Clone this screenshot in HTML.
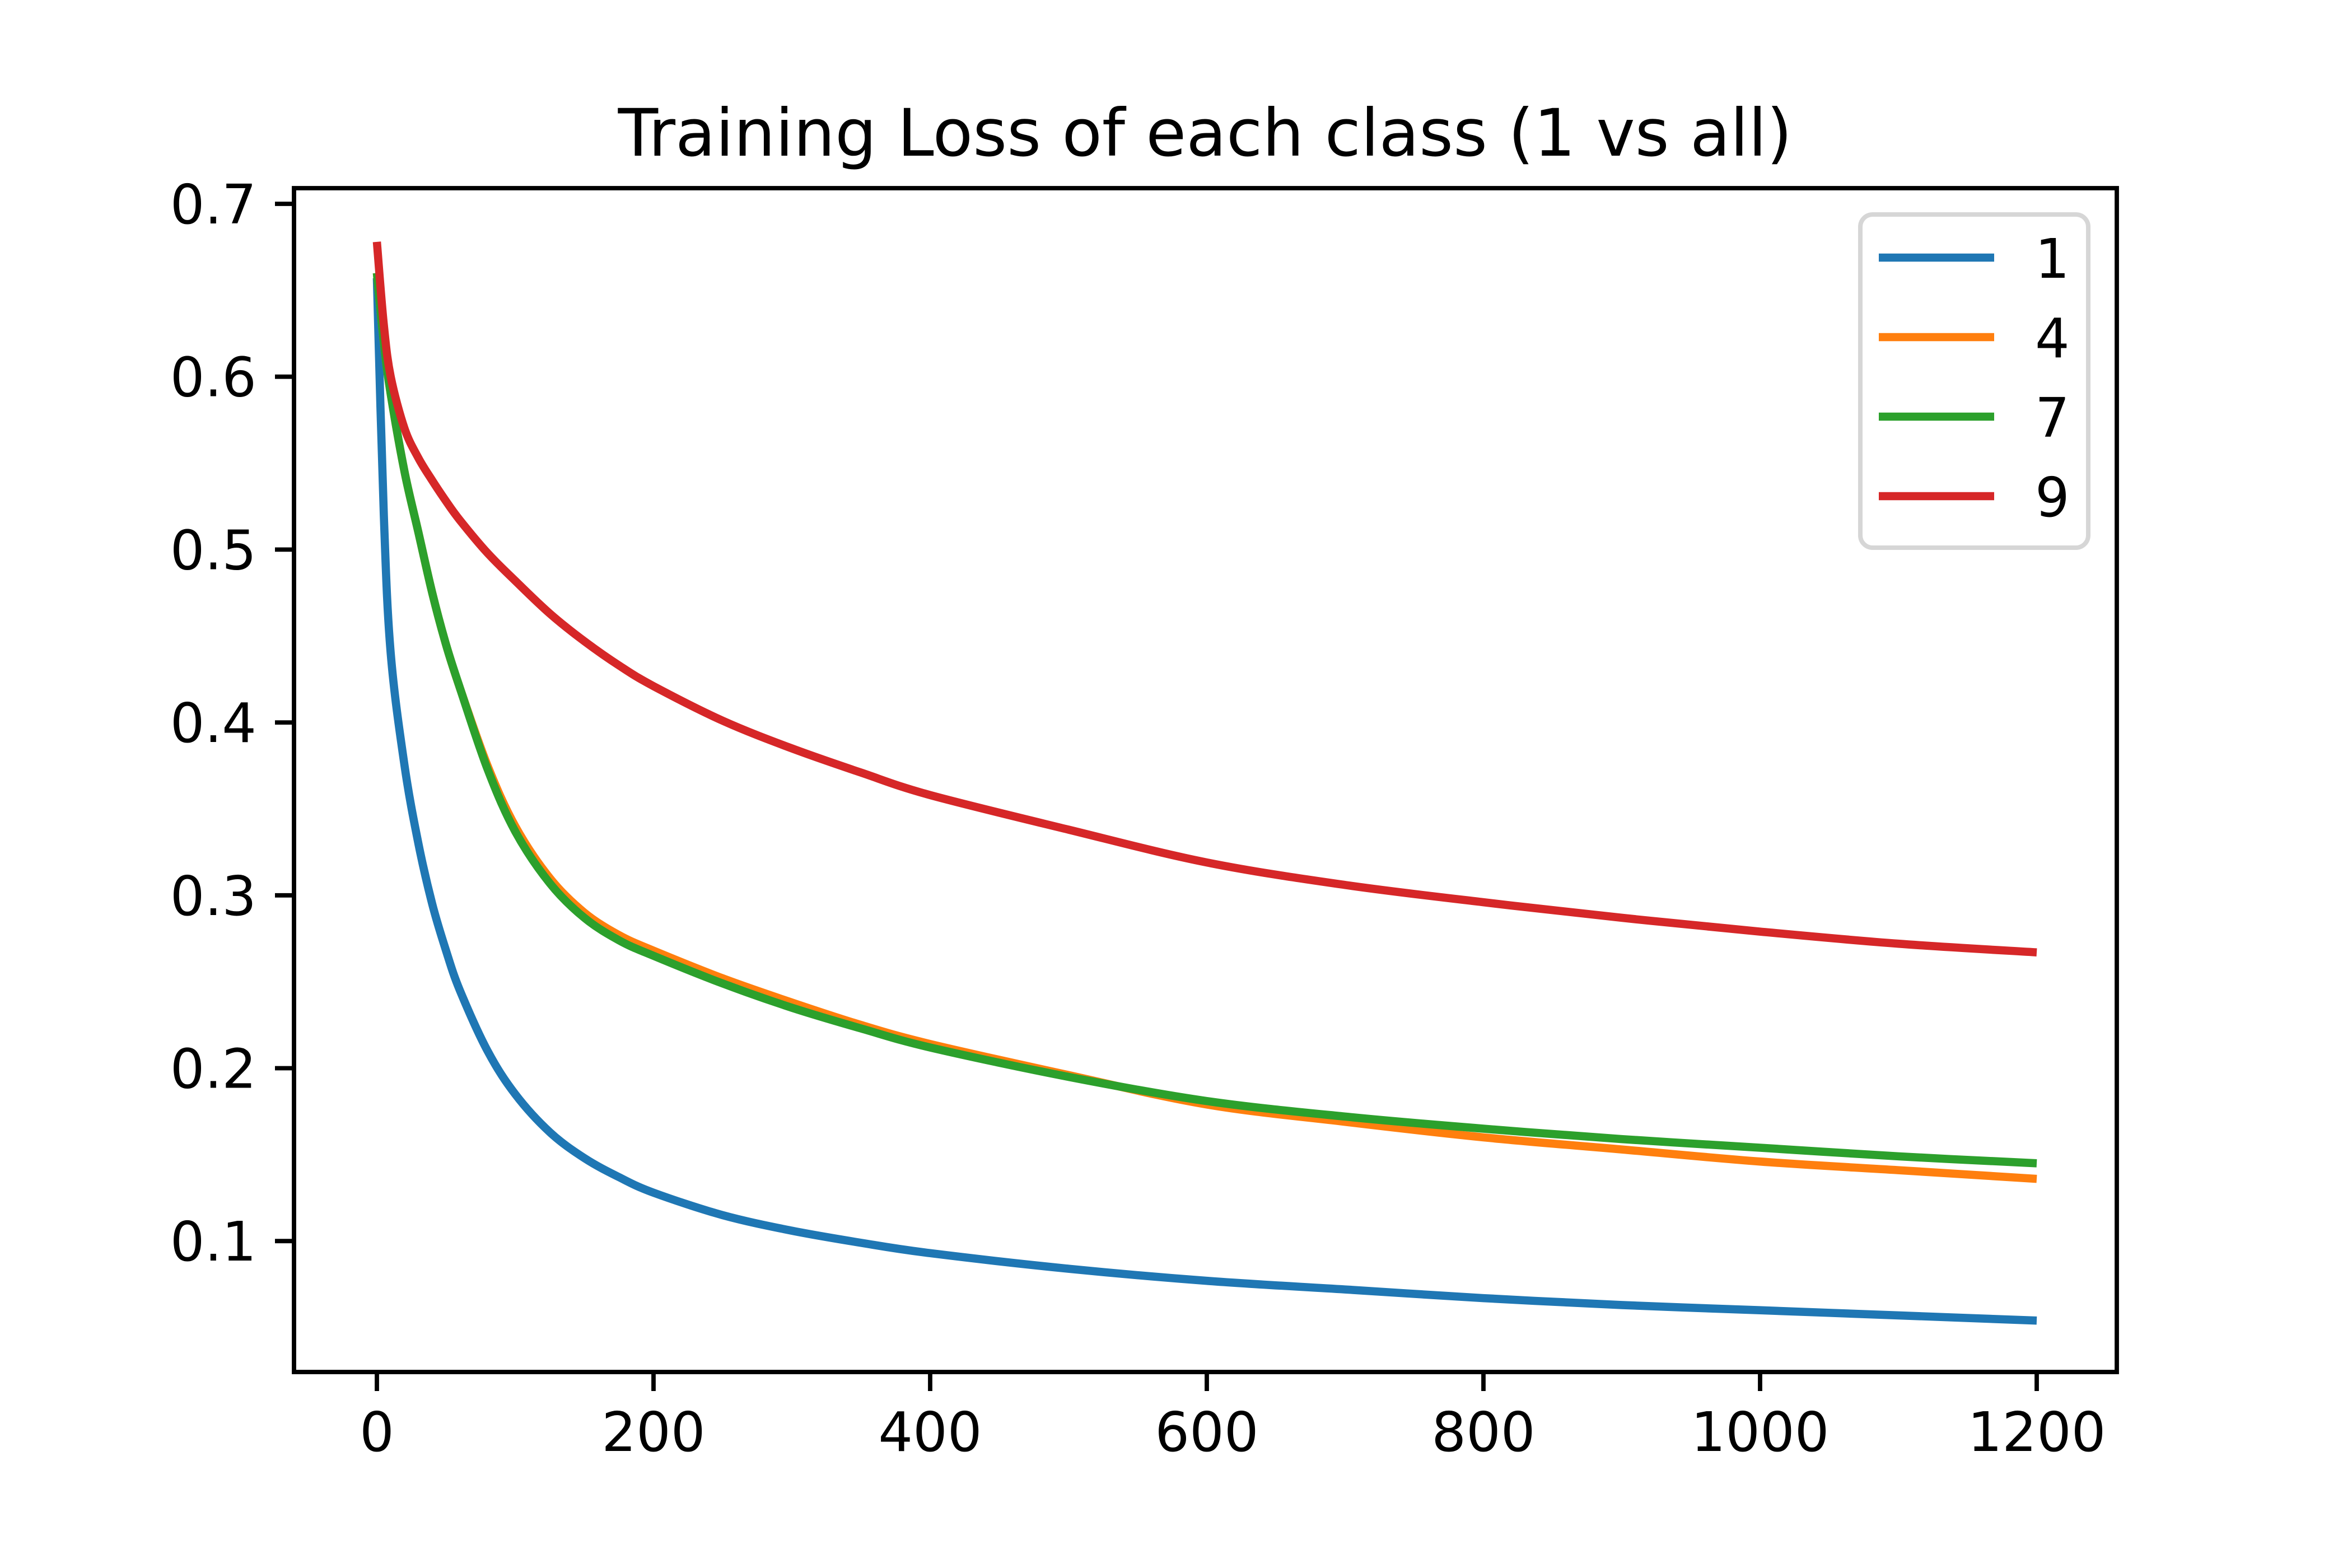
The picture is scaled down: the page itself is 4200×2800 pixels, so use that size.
<!DOCTYPE html>
<html><head><meta charset="utf-8"><style>
html,body{margin:0;padding:0;background:#fff;}
svg{display:block;}
text{font-family:"DejaVu Sans","Liberation Sans",sans-serif;fill:#000;}
</style></head><body>
<svg id="chart" width="4200" height="2800" viewBox="0 0 4200 2800" xmlns="http://www.w3.org/2000/svg">
<rect width="4200" height="2800" fill="#fff"/>
<text x="2152" y="278" font-size="117" text-anchor="middle">Training Loss of each class (1 vs all)</text>
<g id="plot"></g>
<g id="axes"></g>
<g id="legend"></g>
</svg>
<script>
const xs = [0,5,10,20,30,40,50,60,80,100,125,150,175,200,250,300,350,400,500,600,700,800,900,1000,1100,1200];
const seriesNames = ["1","4","7","9"];
const loss1 = [0.657,0.52,0.44,0.375,0.33,0.295,0.268,0.245,0.21,0.185,0.163,0.148,0.137,0.128,0.115,0.106,0.099,0.093,0.084,0.077,0.072,0.067,0.063,0.06,0.057,0.054];
const loss4 = [0.66,0.62,0.59,0.545,0.51,0.475,0.445,0.42,0.375,0.34,0.31,0.29,0.277,0.268,0.252,0.238,0.225,0.214,0.196,0.179,0.169,0.160,0.153,0.146,0.141,0.136];
const loss7 = [0.66,0.62,0.59,0.545,0.51,0.475,0.445,0.42,0.373,0.337,0.307,0.287,0.274,0.265,0.249,0.235,0.223,0.212,0.195,0.181,0.172,0.165,0.159,0.154,0.149,0.145];
const loss9 = [0.678,0.63,0.6,0.57,0.553,0.54,0.528,0.517,0.498,0.482,0.463,0.447,0.433,0.421,0.401,0.385,0.371,0.358,0.338,0.319,0.306,0.296,0.287,0.279,0.272,0.267];
const xTicks = [0,200,400,600,800,1000,1200];
const yTicks = [0.1,0.2,0.3,0.4,0.5,0.6,0.7];
const yTickLabels = ["0.1","0.2","0.3","0.4","0.5","0.6","0.7"];

const L=525,R=3780,T=336,B=2450;
const X = v => 673 + v*(3637-673)/1200;
const Y = v => 364 + (0.7-v)*3087;
const NS="http://www.w3.org/2000/svg";
const colors=["#1f77b4","#ff7f0e","#2ca02c","#d62728"];
const all=[loss1,loss4,loss7,loss9];
function mk(tag,attrs,parent){const e=document.createElementNS(NS,tag);for(const k in attrs)e.setAttribute(k,attrs[k]);parent.appendChild(e);return e;}
const plot=document.getElementById('plot'), axes=document.getElementById('axes'), leg=document.getElementById('legend');
function smoothPath(px,py){
  let d='M'+px[0].toFixed(1)+','+py[0].toFixed(1);
  for(let i=0;i<px.length-1;i++){
    const i0=Math.max(0,i-1),i3=Math.min(px.length-1,i+2);
    const c1x=px[i]+(px[i+1]-px[i0])/6, c1y=py[i]+(py[i+1]-py[i0])/6;
    const c2x=px[i+1]-(px[i3]-px[i])/6, c2y=py[i+1]-(py[i3]-py[i])/6;
    d+=' C'+c1x.toFixed(1)+','+c1y.toFixed(1)+' '+c2x.toFixed(1)+','+c2y.toFixed(1)+' '+px[i+1].toFixed(1)+','+py[i+1].toFixed(1);
  }
  return d;
}
all.forEach((s,i)=>{
  const px=xs.map(X), py=s.map(Y);
  const p=mk('path',{d:smoothPath(px,py),fill:'none',stroke:colors[i],'stroke-width':14.6,'stroke-linejoin':'round'},plot);
  
  
});
const frame=mk('rect',{x:L,y:T,width:R-L,height:B-T,fill:'none',stroke:'#000','stroke-width':7.8},axes);


xTicks.forEach(v=>{
  const t=mk('line',{x1:X(v),x2:X(v),y1:B,y2:B+34,stroke:'#000','stroke-width':7.8},axes);
  
  
  const tx=mk('text',{x:X(v),y:2591,'font-size':97,'text-anchor':'middle'},axes);
  tx.textContent=String(v);
  
  
});
yTicks.forEach((v,i)=>{
  const t=mk('line',{x1:L-34,x2:L,y1:Y(v),y2:Y(v),stroke:'#000','stroke-width':7.8},axes);
  
  
  const tx=mk('text',{x:458,y:Y(v)+35,'font-size':97,'text-anchor':'end'},axes);
  tx.textContent=yTickLabels[i];
  
  
});
const box=mk('rect',{x:3322,y:383,width:407,height:595,rx:22,fill:'#fff',stroke:'#d6d6d6','stroke-width':8},leg);


seriesNames.forEach((n,i)=>{
  const y=460+i*142;
  const l=mk('line',{x1:3355,x2:3561,y1:y,y2:y,stroke:colors[i],'stroke-width':14.6},leg);
  
  
  const tx=mk('text',{x:3634,y:y+36,'font-size':97},leg);
  tx.textContent=n;
  
  
});
</script>
</body></html>
